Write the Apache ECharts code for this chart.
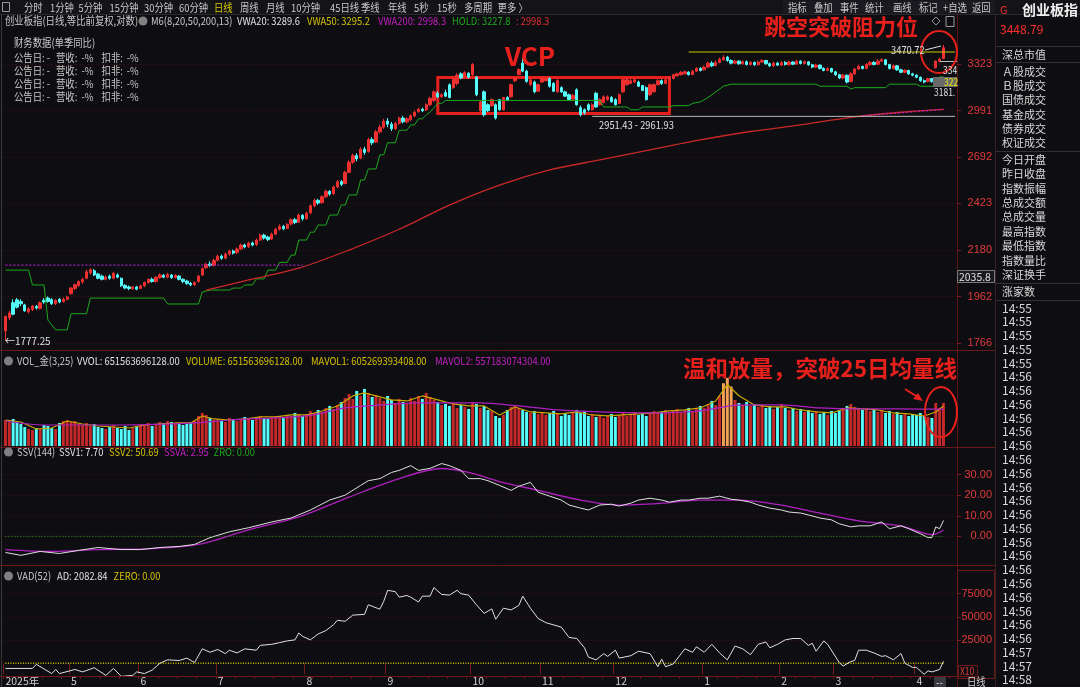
<!DOCTYPE html>
<html><head><meta charset="utf-8">
<script src="https://cdn.jsdelivr.net/npm/echarts@6/dist/echarts.min.js"></script>
<style>html,body{margin:0;padding:0;background:#0e0e12;}#c{width:1080px;height:687px;}</style>
</head><body><div id="c"></div>
<script>
// ===== DATA =====
// daily candles [open, close, low, high]
const ohlc = [
[1815,1875,1777.25,1880],[1870,1890,1860,1900],[1935,1885,1880,1950],[1947,1915,1910,1955],[1940,1930,1920,1950],
[1925,1900,1895,1930],[1895,1908,1888,1915],[1905,1920,1898,1925],[1918,1912,1905,1925],[1910,1935,1905,1940],
[1945,1938,1930,1955],[1955,1940,1935,1962],[1948,1930,1925,1955],[1930,1945,1925,1950],[1950,1938,1932,1955],
[1940,1950,1935,1958],[1950,1960,1945,1965],[1975,2000,1970,2005],[1998,2015,1990,2020],[2012,2030,2005,2035],
[2028,2040,2020,2048],[2045,2075,2040,2085],[2070,2085,2062,2092],[2080,2060,2055,2088],[2065,2045,2040,2070],
[2055,2040,2035,2062],[2040,2050,2035,2058],[2055,2045,2038,2062],[2045,2068,2040,2075],[2060,2050,2045,2068],
[2045,2010,2005,2048],[2012,2000,1995,2018],[2005,1998,1990,2012],[1998,2005,1992,2010],[2005,1995,1990,2010],
[1998,2010,1995,2015],[2010,2025,2005,2030],[2025,2040,2020,2045],[2040,2030,2025,2048],[2030,2050,2025,2055],
[2048,2060,2042,2068],[2058,2050,2045,2065],[2050,2062,2045,2070],[2060,2048,2042,2065],[2048,2058,2044,2064],
[2055,2040,2035,2060],[2040,2030,2022,2045],[2032,2020,2015,2038],[2022,2015,2008,2028],[2015,2025,2010,2030],
[2030,2055,2025,2060],[2060,2090,2055,2095],[2095,2110,2088,2118],[2112,2105,2098,2125],[2105,2130,2100,2138],
[2130,2150,2125,2158],[2150,2140,2132,2158],[2140,2160,2135,2168],[2160,2175,2152,2182],[2175,2165,2158,2182],
[2168,2185,2160,2192],[2185,2205,2180,2212],[2205,2195,2188,2212],[2198,2215,2190,2222],[2215,2205,2198,2222],
[2208,2230,2200,2238],[2230,2255,2225,2262],[2255,2240,2232,2262],[2245,2232,2225,2252],[2235,2260,2230,2268],
[2260,2285,2255,2292],[2285,2300,2278,2310],[2300,2288,2280,2308],[2290,2310,2285,2318],[2312,2335,2305,2342],
[2335,2320,2312,2345],[2322,2360,2318,2368],[2358,2340,2330,2365],[2340,2370,2335,2378],[2372,2410,2365,2418],
[2410,2440,2402,2450],[2440,2425,2415,2448],[2428,2460,2420,2468],[2460,2490,2452,2500],[2490,2475,2465,2498],
[2478,2515,2470,2522],[2515,2545,2508,2555],[2545,2530,2520,2555],[2535,2600,2530,2610],[2600,2660,2595,2672],
[2660,2700,2650,2712],[2700,2680,2665,2715],[2685,2740,2678,2752],[2740,2720,2705,2755],[2725,2800,2718,2812],
[2800,2780,2765,2815],[2785,2850,2778,2862],[2850,2880,2838,2895],[2880,2920,2870,2935],[2920,2900,2880,2940],
[2900,2870,2855,2915],[2870,2905,2860,2915],[2905,2940,2895,2950],[2940,2915,2905,2955],[2915,2935,2905,2945],
[2930,2955,2920,2965],[2955,2980,2945,2990],[2985,3000,2975,3010],[3000,2990,2980,3010],[2995,3030,2988,3040],
[3030,3075,3020,3085],[3060,3120,3050,3130],[3110,3085,3075,3125],[3085,3100,3078,3110],[3115,3090,3082,3135],
[3170,3080,3075,3180],[3150,3210,3140,3230],[3180,3240,3165,3255],[3250,3220,3210,3262],[3230,3260,3220,3270],
[3255,3225,3215,3262],[3244,3319,3235,3330],[3226,3100,3090,3235],[2990,3050,2980,3060],[3120,2962,2950,3130],
[3030,2990,2980,3040],[3024,3065,3015,3075],[3030,2940,2930,3040],[3065,2996,2990,3070],[2996,3080,2990,3085],
[3080,3060,3055,3090],[3085,3171,3080,3180],[3200,3222,3190,3230],[3244,3281,3240,3290],[3330,3270,3262,3365],
[3270,3195,3185,3280],[3171,3207,3165,3215],[3190,3120,3110,3200],[3125,3171,3118,3180],[3190,3220,3185,3228],
[3200,3215,3195,3225],[3215,3160,3150,3225],[3180,3125,3118,3190],[3120,3200,3115,3210],[3150,3120,3112,3160],
[3120,3090,3085,3128],[3100,3065,3060,3108],[3070,3095,3060,3105],[3135,3030,3025,3145],[3010,2962,2951.43,3025],
[2996,2975,2962,3005],[3030,2996,2985,3040],[2996,3030,2990,3040],[3110,3015,3010,3120],[3030,3065,3025,3075],
[3045,3085,3040,3095],[3065,3085,3060,3095],[3080,3050,3045,3090],[3065,3030,3025,3075],[3040,3100,3035,3110],
[3120,3207,3110,3215],[3171,3207,3165,3220],[3180,3200,3175,3215],[3190,3207,3185,3220],[3190,3160,3155,3200],
[3165,3130,3125,3170],[3150,3065,3060,3160],[3100,3171,3090,3180],[3120,3171,3115,3180],[3171,3200,3165,3210],
[3200,3180,3170,3210],[3180,3207,3175,3215],[3207,3225,3200,3232],[3215,3244,3210,3250],[3235,3250,3230,3258],
[3244,3262,3238,3270],[3250,3265,3245,3275],[3262,3244,3238,3270],[3245,3270,3240,3280],[3270,3290,3262,3300],
[3290,3275,3268,3300],[3280,3300,3275,3310],[3300,3330,3295,3340],[3330,3310,3300,3345],[3312,3335,3305,3350],
[3335,3360,3328,3372],[3355,3375,3350,3390],[3375,3350,3340,3385],[3350,3330,3320,3360],[3330,3345,3322,3355],
[3345,3325,3318,3352],[3325,3340,3318,3350],[3340,3320,3312,3350],[3320,3335,3312,3345],[3335,3318,3310,3342],
[3318,3338,3312,3348],[3338,3350,3330,3360],[3350,3325,3318,3355],[3325,3310,3300,3335],[3310,3330,3302,3340],
[3330,3315,3308,3340],[3315,3335,3308,3345],[3335,3320,3312,3345],[3318,3338,3310,3348],[3338,3322,3315,3345],
[3322,3345,3318,3355],[3345,3328,3320,3352],[3328,3340,3320,3350],[3340,3318,3310,3345],[3318,3300,3292,3325],
[3300,3315,3292,3325],[3315,3290,3282,3320],[3290,3275,3268,3298],[3275,3290,3268,3298],[3290,3265,3258,3295],
[3265,3244,3235,3272],[3244,3220,3212,3250],[3220,3240,3210,3250],[3240,3190,3180,3245],[3195,3250,3188,3262],
[3250,3285,3244,3295],[3285,3305,3278,3318],[3305,3290,3282,3312],[3290,3320,3285,3330],[3318,3335,3310,3345],
[3335,3320,3312,3345],[3322,3345,3315,3360],[3345,3355,3338,3368],[3355,3320,3312,3360],[3320,3290,3282,3325],
[3290,3310,3282,3320],[3310,3280,3272,3315],[3280,3262,3255,3288],[3262,3275,3255,3285],[3275,3250,3242,3280],
[3250,3240,3232,3258],[3240,3225,3218,3248],[3225,3200,3192,3230],[3200,3190,3181,3210],[3195,3215,3188,3222],
[3215,3195,3185,3220],[3295,3345,3290,3352],[3345,3360,3335,3372],[3365,3448.79,3360,3470.72]
];
// turnover, 亿元
const volumes = [
3939,3788,4091,3636,3333,2879,2576,2424,2727,2576,3182,3030,2727,2576,3485,3788,3939,3636,3788,3333,
3182,3485,3030,3333,2879,2727,2576,2879,3182,2727,2576,3030,2424,2727,3030,3333,3182,3485,3030,3333,
3636,3485,3788,3636,3333,3485,3182,3333,3636,3788,4545,5000,4697,4242,3939,4091,3788,3636,4242,3939,
3788,4091,4394,4091,3939,4242,4545,4242,4091,4394,4545,4242,4394,4697,4545,5000,4848,4545,4848,5303,
5000,5454,5151,5757,6060,5606,6212,6666,7272,7878,7121,8333,7575,8636,8030,7424,7727,7272,6818,7575,
6969,6515,7121,6666,6363,7272,6818,7575,7121,8030,7424,6969,6666,6212,6363,6060,6515,5757,6212,5909,
5606,6666,6363,5757,6060,5454,5303,4545,4242,4697,5454,5909,6212,5757,5454,5151,5000,5303,4848,5151,
4697,5000,5303,4848,4545,5000,4697,5151,5454,5000,5303,4545,4848,4394,4697,4242,4545,4848,4394,4697,
5000,4545,4848,5151,4697,5000,4545,4848,5303,5000,5151,5454,5000,5303,5606,5151,5454,5757,5303,5606,
6060,5757,6363,6818,6212,7575,9500,10300,9000,6969,6515,6212,6666,6060,6363,5909,6212,5757,6060,5606,
5909,6363,5757,5454,5757,5303,5606,5151,5454,5000,5303,4848,5151,4697,5303,5000,5454,5757,6060,6363,
5909,5606,5454,5757,5303,5606,5151,5454,5000,5303,4848,5151,4697,5000,4545,4848,4697,5000,4545,4394,
4242,6515,5757,6516
];
const orangeBars = [186, 187, 188];
// indicator lines as [dayIndex, value]
const holdPts = [[0,2083],[6,2083],[7,2014],[10,2014],[11,1860],[13,1819],[16,1819],[17,1887],[21,1887],[22,1955],[41,1955],[42,1929],[50,1929],[51,1982],[53,1991],[58,1991],[59,2000],[61,2000],[62,2014],[64,2014],[65,2042],[67,2042],[68,2083],[70,2083],[71,2120],[73,2120],[74,2155],[75,2155],[76,2230],[78,2230],[79,2270],[80,2270],[81,2307],[83,2307],[84,2360],[86,2360],[87,2414],[88,2414],[89,2470],[91,2470],[92,2555],[93,2555],[94,2620],[96,2620],[97,2705],[98,2705],[99,2780],[101,2780],[102,2860],[104,2860],[105,2895],[106,2895],[107,2935],[108,2935],[109,2960],[110,2980],[111,3010],[112,3040],[113,3040],[114,3060],[154,3060],[155,3015],[161,3015],[162,2996],[164,2996],[165,3015],[172,3015],[173,3024],[177,3024],[178,3040],[180,3050],[182,3080],[184,3120],[186,3160],[188,3175],[210,3175],[211,3160],[218,3160],[219,3140],[220,3150],[228,3150],[229,3175],[236,3175],[237,3160],[241,3160],[242,3228],[243,3227.8]];
const redLinePts = [[52,1991],[63,2037],[76,2092],[89,2180],[102,2285],[115,2414],[128,2526],[141,2614],[154,2674],[167,2736],[180,2798],[193,2852],[206,2895],[219,2945],[232,2979],[243,2998.3]];
const vwa200Early = [[0,2107],[77,2107]];
const vwa200Late = [[222,2955],[243,2998.3]];
const resistPts = [[177,3415],[246,3415]];
const lowLinePts = [[152,2951.43],[246,2951.43]];
const mavol1Pts = [[0,3939],[4,3636],[8,2576],[12,2727],[16,3788],[20,3333],[24,3030],[28,2879],[32,2727],[36,3182],[40,3333],[44,3485],[48,3485],[51,4545],[54,4091],[58,3939],[62,4091],[66,4394],[70,4394],[74,4697],[78,4697],[82,5303],[86,6060],[90,7575],[93,8030],[96,7575],[100,6969],[104,6818],[108,7575],[112,6969],[116,6363],[120,6060],[124,6060],[128,4697],[132,5909],[136,5151],[140,5000],[144,4848],[148,5151],[152,4697],[156,4545],[160,4697],[164,4848],[168,5000],[172,5303],[176,5454],[180,5757],[184,6818],[187,9300],[190,7600],[194,6212],[198,5909],[202,5909],[206,5454],[210,5151],[214,5000],[218,5757],[222,5606],[226,5454],[230,5000],[234,4848],[238,4545],[241,5151],[243,6052.7]];
const mavol2Pts = [[0,3788],[10,3182],[30,3182],[49,3485],[58,3939],[78,4545],[88,5757],[97,6212],[107,6515],[123,6515],[133,6060],[143,5454],[154,5151],[167,5000],[180,5303],[190,6200],[201,6212],[211,5757],[221,5606],[232,5606],[243,5571.8]];
const ssv1Pts = [[0,-7.8],[4,-9.2],[9,-7.3],[14,-8.3],[19,-6.8],[24,-5.4],[30,-6.4],[35,-6.4],[40,-5.4],[45,-4.9],[49,-3.9],[53,-0.6],[58,2.2],[63,4.2],[69,7.0],[74,8.9],[79,12.8],[84,17.6],[88,20],[92,24.7],[94,27],[97,28],[100,31],[102,32],[105,34.3],[107,32],[110,33],[113,35.3],[115,34.3],[118,32],[120,28],[123,28],[125,27],[128,24.7],[131,22.3],[133,24.3],[136,26.2],[138,21.4],[141,19.5],[144,17.6],[146,15.2],[149,13.7],[151,12.8],[154,15.2],[157,15.6],[159,14.7],[162,16.1],[164,17.6],[167,18.5],[170,17.6],[172,16.6],[175,17.6],[177,17.6],[180,18.5],[182,18.5],[185,19.5],[188,18],[190,17.6],[193,16.6],[195,15.2],[198,13.7],[201,12.8],[203,11.8],[206,11.3],[208,10.4],[211,8.9],[214,8],[216,6.1],[219,4.6],[221,5.1],[224,5.1],[227,7],[229,3.7],[232,5.1],[234,3.7],[237,1.3],[239,-0.6],[240,-0.6],[241,4.6],[242,3.7],[243,7.70]];
const ssvaPts = [[0,-6.4],[12,-7.3],[24,-6.4],[38,-5.9],[50,-3.9],[63,3.2],[76,9.4],[89,19],[102,28],[113,32.9],[120,31],[128,26.6],[138,22.3],[149,17.6],[159,15.2],[170,16.1],[180,17.6],[190,17.6],[201,15.2],[211,11.3],[221,7.5],[232,5.1],[240,0.8],[243,2.95]];
const adPts = [[0,-5560],[7,-5560],[8,-1100],[12,-11100],[13,-6700],[14,-11100],[18,-6700],[20,-9260],[23,-4800],[26,-13000],[28,-5560],[30,-14080],[33,-13000],[34,-9260],[36,-11100],[38,-7410],[40,0],[42,3700],[45,2960],[47,5560],[49,740],[51,15560],[53,11850],[55,14820],[57,10380],[58,14080],[60,11120],[62,15560],[65,14080],[66,19260],[69,20380],[71,22230],[73,24080],[75,25200],[76,32600],[77,28900],[79,25200],[81,31500],[83,35200],[85,41500],[86,46310],[88,45200],[90,51870],[93,52600],[94,63000],[97,58170],[98,66690],[99,78550],[101,77070],[102,71140],[104,72990],[105,71140],[107,65950],[108,72250],[110,72250],[111,81510],[113,74100],[115,73360],[117,78550],[118,74840],[120,73360],[122,63000],[124,53700],[126,58540],[127,47420],[129,59280],[131,57430],[133,62240],[134,72250],[136,59280],[138,48170],[140,43720],[144,38900],[146,27790],[148,26680],[150,16670],[151,6670],[153,3700],[155,10380],[156,7410],[158,14080],[159,5560],[162,8150],[164,12970],[167,10380],[169,-3700],[170,4450],[171,-3700],[173,-740],[176,15560],[178,11850],[179,17780],[181,11850],[183,20380],[185,11120],[187,3700],[189,18520],[191,15560],[193,9260],[195,20380],[197,22970],[198,16670],[200,20380],[202,25200],[204,26680],[206,26680],[208,19260],[209,21490],[210,12970],[212,24080],[213,20380],[216,740],[217,-2960],[219,1850],[220,2960],[221,14080],[223,14080],[225,11120],[227,7410],[228,8150],[230,3700],[232,10380],[233,0],[235,-4450],[236,-4450],[238,-11850],[239,-8150],[240,-9260],[242,-6670],[243,2082.84]];
const zeroPts = [[0,0],[243,0]];
// axis labels
const priceTicks = [1766,1962,2180,2423,2692,2991,3323];
const ssvTicks = [0,10,20,30];
const vadTicks = [25000,50000,75000];
const monthTicks = [[0,'2025年'],[17,'5'],[35,'6'],[55,'7'],[78,'8'],[99,'9'],[121,'10'],[139,'11'],[158,'12'],[181,'1'],[201,'2'],[215,'3'],[236,'4']];
const PAD = 3;
const categories = Array.from({length: ohlc.length + PAD}, (_, i) => String(i));

const toolbarItems = [['分时',24],['1分钟',50],['5分钟',78.5],['15分钟',109.5],['30分钟',144],['60分钟',179],['日线',214],['周线',240],['月线',266],['10分钟',291],['45日线',330],['季线',361],['年线',388],['5秒',414],['15秒',437],['多周期',464],['更多 〉',497.6]];
const toolButtons = [['指标',788],['叠加',814],['事件',840],['统计',865],['画线',893],['标记',919],['+自选',943],['返回',972]];
const infoGroup1 = ['深总市值'];
const infoGroup2 = ['Ａ股成交','Ｂ股成交','国债成交','基金成交','债券成交','权证成交'];
const infoGroup3 = ['今日开盘','昨日收盘','指数振幅','总成交额','总成交量','最高指数','最低指数','指数量比','深证换手'];
const infoGroup4 = ['涨家数'];
const tickTimes = ['14:55','14:55','14:55','14:55','14:55','14:56','14:56','14:56','14:56','14:56','14:56','14:56','14:56','14:56','14:56','14:56','14:56','14:56','14:56','14:56','14:56','14:56','14:56','14:56','14:56','14:57','14:57','14:58'];

// ===== CHART =====
const CJK = '"Noto Sans CJK SC","Noto Sans",sans-serif';
const RED = '#EE3030', CYAN = '#54FCFC', GRIDRED = '#5a1414', AXRED = '#E03A3A';
const monthMap = {}; monthTicks.forEach(m => monthMap[m[0]] = m[1]);
const isMonth = (idx) => monthMap[idx] !== undefined;
const SX = 0.85;

function T(text, x, y, fill, size, extra) {
  extra = extra || {};
  return { type: 'text', x: x, y: y, scaleX: extra.sx || 1, silent: true, z: 100,
    style: { text: text, fill: fill, font: (extra.bold ? 'bold ' : '') + size + 'px ' + CJK,
      textAlign: 'left', textVerticalAlign: 'middle', align: 'left', verticalAlign: 'middle' } };
}
function L(x1, y1, x2, y2, color, w, dash) {
  return { type: 'line', silent: true, z: 90, shape: { x1, y1, x2, y2 }, style: { stroke: color, lineWidth: w || 1, lineDash: dash || null } };
}
function R(x, y, w, h, fill, stroke) {
  return { type: 'rect', silent: true, z: 95, shape: { x, y, width: w, height: h }, style: { fill: fill || 'none', stroke: stroke || null, lineWidth: 1 } };
}
const C = { sx: SX };

const g = [];
// toolbar
g.push(R(0, 0, 1080, 14, '#141418'));
g.push(R(2.5, 2.5, 7, 9, 'none', '#9a9a9a'));
g.push(L(5, 3, 5, 11, '#9a9a9a'));
toolbarItems.forEach(t => g.push(T(t[0], t[1], 7.5, t[0] === '日线' ? '#D8C800' : '#C8C8C8', 11, C)));
g.push(R(783, 0.5, 212, 13, '#1a1a20'));
toolButtons.forEach((t, i) => { g.push(T(t[0], t[1], 7.5, '#C8C8C8', 11, C)); if (i > 0) g.push(L(t[1] - 3, 1, t[1] - 3, 13, '#3a3a40')); });
// frame lines
g.push(L(0, 14.5, 1080, 14.5, '#2a2a2e'));
g.push(L(1.5, 14, 1.5, 687, '#3a3a3a'));
g.push(L(957.5, 14, 957.5, 687, GRIDRED));
g.push(L(995.5, 14, 995.5, 687, '#3a2222'));
[350.5, 447.5, 565.5].forEach(y => g.push(L(0, y, 995, y, '#6a1818')));
g.push(L(0, 676.5, 957, 676.5, '#6a1818'));
// main legend
g.push(T('创业板指(日线,等比前复权,对数)', 5, 21, '#C8C8C8', 11, C));
g.push({ type: 'circle', silent: true, z: 100, shape: { cx: 143, cy: 21, r: 4.5 }, style: { fill: '#808080' } });
g.push(T('M6(8,20,50,200,13)', 151, 21, '#C8C8C8', 11, C));
g.push(T('VWA20: 3289.6', 237, 21, '#E0E0E0', 11, C));
g.push(T('VWA50: 3295.2', 307, 21, '#D4C000', 11, C));
g.push(T('VWA200: 2998.3', 378, 21, '#C020C0', 11, C));
g.push(T('HOLD: 3227.8', 452, 21, '#20A820', 11, C));
g.push(T(': 2998.3', 516, 21, '#E03030', 11, C));
g.push({ type: 'polygon', silent: true, z: 100, shape: { points: [[936, 17], [940, 21], [936, 25], [932, 21]] }, style: { fill: 'none', stroke: '#9a9a9a' } });
g.push(R(946, 16.5, 8, 10, 'none', '#9a9a9a'));
// finance block
g.push(T('财务数据(单季同比)', 14, 43, '#C8C8C8', 11, C));
[58, 71, 84, 97].forEach(y => {
  g.push(T('公告日: -', 14, y, '#C8C8C8', 11, C));
  g.push(T('营收:', 56, y, '#C8C8C8', 11, C));
  g.push(T('-%', 81.6, y, '#C8C8C8', 11, C));
  g.push(T('扣非:', 101.6, y, '#C8C8C8', 11, C));
  g.push(T('-%', 126.7, y, '#C8C8C8', 11, C));
});
// annotations
g.push(T('VCP', 505, 56, '#E8201C', 26, { bold: true }));
g.push(T('跳空突破阻力位', 764, 27, '#E8201C', 22, { bold: true }));
g.push(T('温和放量，突破25日均量线', 683, 368, '#E8201C', 22.5, { bold: true }));
g.push({ type: 'ellipse', silent: true, z: 100, shape: { cx: 939, cy: 52, rx: 18, ry: 21 }, style: { fill: 'none', stroke: '#E8201C', lineWidth: 2 } });
g.push({ type: 'ellipse', silent: true, z: 100, shape: { cx: 941, cy: 412, rx: 16, ry: 25 }, style: { fill: 'none', stroke: '#E8201C', lineWidth: 2 } });
g.push(L(905, 389, 919, 398, '#E8201C', 2));
g.push({ type: 'polygon', silent: true, z: 100, shape: { points: [[923, 401], [913, 399], [918, 393]] }, style: { fill: '#E8201C' } });
g.push(T('←1777.25', 5, 341, '#E0E0E0', 11, { sx: 0.9 }));
g.push(T('3470.72', 891, 50, '#E0E0E0', 11, C));
g.push(L(925, 50, 941, 46, '#E0E0E0', 1));
g.push(T('2951.43 - 2961.93', 599, 125, '#E0E0E0', 11, C));
g.push(T('334', 943, 70, '#E0E0E0', 10, C));
g.push(L(940, 61.5, 957, 61.5, '#C0C0C0'));
g.push(R(933, 77, 24, 10, '#6a6a6a'));
g.push(T('322', 944, 82, '#E8E800', 10, C));
g.push(T('3181.', 934, 92, '#E0E0E0', 10, C));
g.push(R(957.5, 270.5, 37, 12, '#1a1a1e', '#7a7a7a'));
g.push(T('2035.8', 959, 276.5, '#E0E0E0', 11, { sx: 0.95 }));
// sub-panel legends
[361, 452, 576].forEach(y => g.push({ type: 'circle', silent: true, z: 100, shape: { cx: 8.5, cy: y, r: 4.5 }, style: { fill: '#808080' } }));
g.push(T('VOL_金(3,25)', 17, 361, '#C8C8C8', 11, C));
g.push(T('VVOL: 651563696128.00', 77, 361, '#E0E0E0', 11, C));
g.push(T('VOLUME: 651563696128.00', 186, 361, '#D4C000', 11, C));
g.push(T('MAVOL1: 605269393408.00', 311, 361, '#D4C000', 11, C));
g.push(T('MAVOL2: 557183074304.00', 435, 361, '#C020C0', 11, C));
g.push(T('SSV(144)', 17, 452, '#C8C8C8', 11, C));
g.push(T('SSV1: 7.70', 59, 452, '#E0E0E0', 11, C));
g.push(T('SSV2: 50.69', 109, 452, '#D4C000', 11, C));
g.push(T('SSVA: 2.95', 164, 452, '#C020C0', 11, C));
g.push(T('ZRO: 0.00', 213.5, 452, '#20A820', 11, C));
g.push(T('VAD(52)', 17, 576, '#C8C8C8', 11, C));
g.push(T('AD: 2082.84', 57, 576, '#E0E0E0', 11, C));
g.push(T('ZERO: 0.00', 113.6, 576, '#D4C000', 11, C));
// VAD axis box, X10, bottom boxes
g.push(R(957.5, 570.5, 37, 108, 'none', '#6a1818'));
g.push(R(958.5, 665.5, 19, 11, 'none', '#6a1818'));
g.push(T('X10', 960, 671, '#E03A3A', 10, C));
g.push(R(934, 677, 12, 10, '#3a3a42'));
g.push(T('--', 936, 682, '#E0E0E0', 10));
g.push(T('日线', 967, 681.5, '#D0D0D0', 11, C));
// right info panel
g.push(T('G', 1000, 10, '#E83030', 11));
g.push(T('创业板指', 1022, 10, '#F0F0F0', 14, { bold: true }));
g.push(T('3448.79', 1000, 29, '#FF3030', 12));
g.push(L(996, 46.5, 1080, 46.5, '#333'));
infoGroup1.forEach((s, i) => g.push(T(s, 1002, 54.5 + i * 14.3, '#D8D8D8', 11)));
g.push(L(996, 62.5, 1080, 62.5, '#333'));
infoGroup2.forEach((s, i) => g.push(T(s, 1002, 71.7 + i * 14.3, '#D8D8D8', 11)));
g.push(L(996, 151.5, 1080, 151.5, '#333'));
infoGroup3.forEach((s, i) => g.push(T(s, 1002, 159.5 + i * 14.45, '#D8D8D8', 11)));
g.push(L(996, 283.5, 1080, 283.5, '#333'));
infoGroup4.forEach((s, i) => g.push(T(s, 1002, 291.5 + i * 14.3, '#D8D8D8', 11)));
g.push(L(996, 300.5, 1080, 300.5, '#333'));
tickTimes.forEach((s, i) => g.push(T(s, 1002, 308 + i * 13.77, '#D8D8D8', 12)));

function xAxisFor(gi, bottom) {
  const a = { type: 'category', gridIndex: gi, data: categories, boundaryGap: true,
    axisLine: { show: false }, axisTick: { show: false }, axisLabel: { show: false }, splitLine: { show: false } };
  if (bottom) {
    a.axisTick = { show: true, interval: (i) => isMonth(i), length: 11, lineStyle: { color: '#7a1a1a' } };
    a.axisLabel = { show: true, interval: (i) => isMonth(i), formatter: (v, i) => monthMap[i] || '', color: '#D0D0D0',
      fontSize: 10.5, fontFamily: CJK, align: 'left', margin: 0, hideOverlap: false };
  }
  return a;
}
// weekly minor ticks along the bottom axis
const weekAxis = { type: 'category', gridIndex: 3, data: categories, boundaryGap: true, position: 'bottom',
  axisLine: { show: false }, axisLabel: { show: false }, splitLine: { show: false },
  axisTick: { show: true, interval: 4, length: 3, lineStyle: { color: '#6a1818' } } };
const yLabel = { color: AXRED, fontSize: 11, fontFamily: '"Liberation Sans",Arial,sans-serif', align: 'right', margin: 35 };
const dotted = { show: true, lineStyle: { color: '#4a1212', type: [1, 3], width: 1 } };

const option = {
  backgroundColor: '#0e0e12',
  animation: false,
  textStyle: { fontFamily: CJK },
  grid: [
    { left: 3.5, right: 123, top: 28, bottom: 337 },
    { left: 3.5, right: 123, top: 372, bottom: 241 },
    { left: 3.5, right: 123, top: 458, bottom: 130 },
    { left: 3.5, right: 123, top: 570, bottom: 11 }
  ],
  xAxis: [xAxisFor(0), xAxisFor(1), xAxisFor(2), xAxisFor(3, true), weekAxis],
  yAxis: [
    { type: 'log', logBase: 10, gridIndex: 0, position: 'right', min: 1738, max: 3606,
      axisLine: { show: false }, axisTick: { show: true, customValues: priceTicks, length: 4, lineStyle: { color: '#7a1a1a' } },
      axisLabel: Object.assign({ customValues: priceTicks, formatter: (v) => String(Math.round(v)) }, yLabel),
      splitLine: dotted },
    { type: 'value', gridIndex: 1, position: 'right', min: 0, max: 11200, axisLine: { show: false }, axisTick: { show: false }, axisLabel: { show: false }, splitLine: { show: false } },
    { type: 'value', gridIndex: 2, position: 'right', min: -10, max: 38,
      axisLine: { show: false }, axisTick: { show: true, customValues: ssvTicks, length: 4, lineStyle: { color: '#7a1a1a' } },
      axisLabel: Object.assign({ customValues: ssvTicks, formatter: (v) => v.toFixed(2) }, yLabel), splitLine: dotted },
    { type: 'value', gridIndex: 3, position: 'right', min: -13700, max: 100400,
      axisLine: { show: false }, axisTick: { show: true, customValues: vadTicks, length: 4, lineStyle: { color: '#7a1a1a' } },
      axisLabel: Object.assign({ customValues: vadTicks, formatter: (v) => String(v) }, yLabel), splitLine: dotted }
  ],
  series: [
    { type: 'candlestick', xAxisIndex: 0, yAxisIndex: 0, data: ohlc, barWidth: '74%',
      itemStyle: { color: RED, color0: CYAN, borderColor: RED, borderColor0: CYAN, borderWidth: 1 },
      markArea: { silent: true, itemStyle: { color: 'rgba(0,0,0,0)', borderColor: '#E8201C', borderWidth: 3 },
        data: [[{ coord: [111.8, 3224] }, { coord: [171.6, 2970] }]] } },
    { name: 'HOLD', type: 'line', xAxisIndex: 0, yAxisIndex: 0, data: holdPts, symbol: 'none', lineStyle: { color: '#1EA81E', width: 1 } },
    { name: 'line2', type: 'line', xAxisIndex: 0, yAxisIndex: 0, data: redLinePts, symbol: 'none', smooth: 0.3, lineStyle: { color: '#C82828', width: 1.3 } },
    { name: 'VWA200', type: 'line', xAxisIndex: 0, yAxisIndex: 0, data: vwa200Early, symbol: 'none', lineStyle: { color: '#A020C0', width: 1.2, type: [2, 2] } },
    { name: 'VWA200b', type: 'line', xAxisIndex: 0, yAxisIndex: 0, data: vwa200Late, symbol: 'none', lineStyle: { color: '#C020C0', width: 1.2, type: [2, 2] } },
    { name: 'resist', type: 'line', xAxisIndex: 0, yAxisIndex: 0, data: resistPts, symbol: 'none', lineStyle: { color: '#C8C800', width: 1 } },
    { name: 'lowline', type: 'line', xAxisIndex: 0, yAxisIndex: 0, data: lowLinePts, symbol: 'none', lineStyle: { color: '#BBBBBB', width: 1 } },
    { name: 'VOL', type: 'bar', xAxisIndex: 1, yAxisIndex: 1, data: volumes, barWidth: '76%',
      itemStyle: { color: (p) => orangeBars.includes(p.dataIndex) ? '#F4A055' : (ohlc[p.dataIndex][1] >= ohlc[p.dataIndex][0] ? '#C42828' : CYAN) } },
    { name: 'MAVOL1', type: 'line', xAxisIndex: 1, yAxisIndex: 1, data: mavol1Pts, symbol: 'none', lineStyle: { color: '#C8A800', width: 1.2 } },
    { name: 'MAVOL2', type: 'line', xAxisIndex: 1, yAxisIndex: 1, data: mavol2Pts, symbol: 'none', smooth: 0.3, lineStyle: { color: '#B020C0', width: 1.2 } },
    { name: 'SSVA', type: 'line', xAxisIndex: 2, yAxisIndex: 2, data: ssvaPts, symbol: 'none', smooth: 0.3, lineStyle: { color: '#B020C0', width: 1.3 } },
    { name: 'SSV1', type: 'line', xAxisIndex: 2, yAxisIndex: 2, data: ssv1Pts, symbol: 'none', lineStyle: { color: '#E0E0E0', width: 1 } },
    { name: 'ZRO', type: 'line', xAxisIndex: 2, yAxisIndex: 2, data: zeroPts, symbol: 'none', lineStyle: { color: '#1EA81E', width: 1, type: [1, 2] } },
    { name: 'ZERO', type: 'line', xAxisIndex: 3, yAxisIndex: 3, data: zeroPts, symbol: 'none', lineStyle: { color: '#C8C800', width: 1.5, type: [1, 1.5] } },
    { name: 'AD', type: 'line', xAxisIndex: 3, yAxisIndex: 3, data: adPts, symbol: 'none', lineStyle: { color: '#E0E0E0', width: 1 } }
  ],
  graphic: { elements: g }
};
const chart = echarts.init(document.getElementById('c'));
chart.setOption(option);
</script>
</body></html>
